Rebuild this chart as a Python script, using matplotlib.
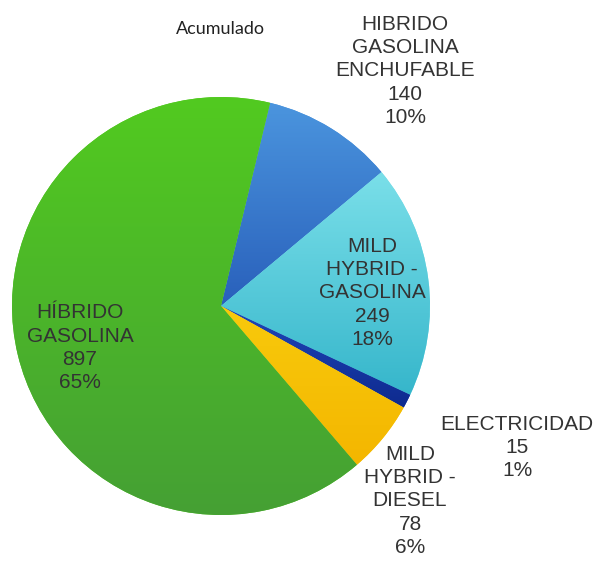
import numpy as np
import matplotlib.pyplot as plt
from matplotlib.colors import LinearSegmentedColormap

labels = ['HIBRIDO\nGASOLINA\nENCHUFABLE', 'MILD\nHYBRID -\nGASOLINA', 'ELECTRICIDAD',
          'MILD\nHYBRID -\nDIESEL', 'HÍBRIDO\nGASOLINA']
values = [140, 249, 15, 78, 897]
top_colors = ['#4b95de', '#7adfe9', '#1f46ba', '#f8ca0c', '#52ca20']
bottom_colors = ['#2960bb', '#36b6cb', '#0e2a8e', '#f4b600', '#45a034']

# label anchor (x, y of first line) in pixel coords of the 598x563 picture
label_pos = [(405, 22), (372, 244), (517, 423), (410, 452), (80, 311)]
line_step = 24.5

W, H = 598, 563
fig = plt.figure(figsize=(W / 100, H / 100), dpi=100)
ax = fig.add_axes([0, 0, 1, 1])

cx, cy, r = 221, H - 306, 209
total = sum(values)
wedges, _ = ax.pie(values, center=(cx, cy), radius=r, startangle=76.4,
                   counterclock=False, colors=top_colors, frame=True,
                   wedgeprops=dict(linewidth=0))

# vertical gradient per slice, lighter on top
for w, c0, c1 in zip(wedges, top_colors, bottom_colors):
    ext = w.get_path().get_extents(w.get_transform() - ax.transData)
    cmap = LinearSegmentedColormap.from_list('g', [c1, c0])
    grad = np.linspace(0, 1, 256).reshape(-1, 1)
    im = ax.imshow(grad, cmap=cmap, origin='lower', aspect='auto',
                   extent=(ext.x0, ext.x1, ext.y0, ext.y1), zorder=2,
                   interpolation='bilinear')
    im.set_clip_path(w)

ax.set_xlim(0, W)
ax.set_ylim(0, H)
ax.set_aspect('equal')
ax.axis('off')

for lab, v, (x, y) in zip(labels, values, label_pos):
    pct = round(100 * v / total)
    txt = f'{lab}\n{v}\n{pct}%'
    n = txt.count('\n') + 1
    ax.text(x, H - y - (n - 1) * line_step / 2, txt, ha='center', va='center',
            fontsize=15, family='Liberation Sans', color='#333333',
            linespacing=1.28, zorder=5)

ax.text(220, H - 29, 'Acumulado', ha='center', va='center', fontsize=13,
        family='Lato', color='#222222')

fig.savefig('out.png', dpi=100)
